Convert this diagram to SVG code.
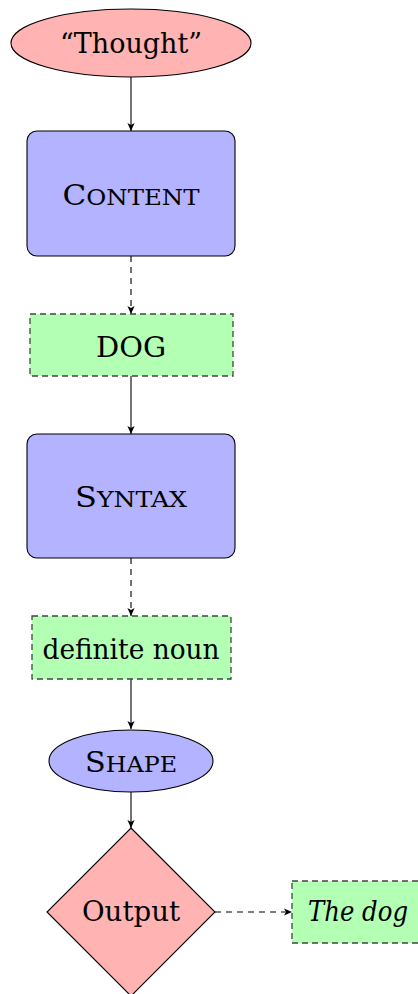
<svg xmlns="http://www.w3.org/2000/svg" width="418" height="994" viewBox="0 0 418 994">
  <style>
    text { font-family: "DejaVu Serif", "Liberation Serif", serif; font-size: 28px; fill: #000; text-anchor: middle; }
    .red { fill: #ffb3b3; stroke: #000; stroke-width: 1.1; }
    .blue { fill: #b3b3ff; stroke: #000; stroke-width: 1.1; }
    .green { fill: #b3ffb3; stroke: #444; stroke-width: 1.3; stroke-dasharray: 6 4; }
    .edge { fill: none; stroke: #000; stroke-width: 1.1; marker-end: url(#tip); }
    .dash { stroke-dasharray: 6 5; }
    .sc { font-size: 22px; }
  </style>
  <defs>
    <marker id="tip" viewBox="0 0 10 10" refX="10" refY="5" markerWidth="8" markerHeight="8" markerUnits="userSpaceOnUse" orient="auto">
      <path d="M0,0.5 L10,5 L0,9.5 L2.5,5 Z" fill="#000"/>
    </marker>
  </defs>

  <g id="connectors">
    <line class="edge" x1="131" y1="77" x2="131" y2="131"/>
    <line class="edge dash" x1="131" y1="256" x2="131" y2="314"/>
    <line class="edge" x1="131" y1="376" x2="131" y2="434"/>
    <line class="edge dash" x1="131" y1="558" x2="131" y2="616"/>
    <line class="edge" x1="131" y1="679" x2="131" y2="729"/>
    <line class="edge" x1="131" y1="792" x2="131" y2="828"/>
    <line class="edge dash" x1="215" y1="912" x2="292" y2="912"/>
  </g>

  <g id="thought">
    <ellipse class="red" cx="131" cy="43" rx="120" ry="34"/>
    <text x="131" y="53" textLength="142" lengthAdjust="spacingAndGlyphs">“Thought”</text>
  </g>

  <g id="content">
    <rect class="blue" x="27" y="131" width="208" height="125" rx="10" ry="10"/>
    <text x="131" y="205" textLength="137" lengthAdjust="spacingAndGlyphs">C<tspan class="sc">ONTENT</tspan></text>
  </g>

  <g id="dog">
    <rect class="green" x="30" y="314" width="203" height="62"/>
    <text x="131" y="357" textLength="70" lengthAdjust="spacingAndGlyphs">DOG</text>
  </g>

  <g id="syntax">
    <rect class="blue" x="27" y="434" width="208" height="124" rx="10" ry="10"/>
    <text x="131" y="507" textLength="112" lengthAdjust="spacingAndGlyphs">S<tspan class="sc">YNTAX</tspan></text>
  </g>

  <g id="definite-noun">
    <rect class="green" x="32" y="616" width="199" height="63"/>
    <text x="131" y="659" textLength="177" lengthAdjust="spacingAndGlyphs">definite noun</text>
  </g>

  <g id="shape">
    <ellipse class="blue" cx="131" cy="761" rx="82" ry="31"/>
    <text x="131" y="772" textLength="92" lengthAdjust="spacingAndGlyphs">S<tspan class="sc">HAPE</tspan></text>
  </g>

  <g id="output">
    <polygon class="red" points="131,828 215,912 131,996 47,912"/>
    <text x="131" y="921" textLength="98" lengthAdjust="spacingAndGlyphs">Output</text>
  </g>

  <g id="the-dog">
    <rect class="green" x="292" y="881" width="132" height="62"/>
    <text x="358" y="921" font-style="italic" textLength="100" lengthAdjust="spacingAndGlyphs">The dog</text>
  </g>
</svg>
